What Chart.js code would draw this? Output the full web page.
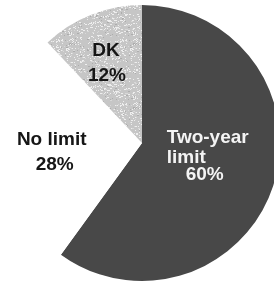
<!DOCTYPE html>
<html>
<head>
<meta charset="utf-8">
<script src="https://cdn.jsdelivr.net/npm/chart.js@4.4.1/dist/chart.umd.min.js"></script>
<style>
html,body{margin:0;padding:0;background:#fff;overflow:hidden;}
#wrap{position:absolute;left:0;top:0;width:284px;height:290px;}
</style>
</head>
<body>
<div id="wrap"><canvas id="chart" width="284" height="290"></canvas></div>
<script>
// slices, clockwise from 12 o'clock
const categories = ["Two-year limit", "No limit", "DK"];
const shares = [60, 28, 12];
const labelLines = [
    ["Two-year", "limit", "60%"],
    ["No limit", "28%"],
    ["DK", "12%"]
];

// label layout: distance from centre (fraction of radius) and line offsets
const labelRadius = [0.47, 0.67, 0.67];
const lineOffsets = [
    [[-37,-27,"left"], [-37,-7,"left"], [1,10,"center"]],
    [[2,-10,"center"], [5,15,"center"]],
    [[-2,-8,"center"], [-1,17,"center"]]
];
const textColors = ["#f4f4f4", "#161616", "#161616"];

// stippled grey for the DK slice
function stipple(){
    const c = document.createElement("canvas");
    c.width = 64; c.height = 64;
    const g = c.getContext("2d");
    g.fillStyle = "#c6c6c6";
    g.fillRect(0,0,64,64);
    let s = 12345;
    function next(){ s = (s*1103515245 + 12345) % 2147483648; return s/2147483648; }
    for(let i=0;i<700;i++){
        const x = Math.floor(next()*64), y = Math.floor(next()*64);
        const v = next();
        const w = next() < 0.3 ? 2 : 1;
        g.fillStyle = v < 0.65 ? "#eeeeee" : (v < 0.85 ? "#d8d8d8" : "#adadad");
        g.fillRect(x,y,w,1);
    }
    return g.createPattern(c,"repeat");
}

const sliceLabels = {
    id:"sliceLabels",
    afterDatasetsDraw(chart){
        const ctx = chart.ctx;
        const arcs = chart.getDatasetMeta(0).data;
        ctx.save();
        ctx.font = "bold 19px 'Liberation Sans', Arial, sans-serif";
        ctx.textBaseline = "alphabetic";
        arcs.forEach((arc,i)=>{
            const mid = (arc.startAngle + arc.endAngle)/2;
            const r = arc.outerRadius*labelRadius[i];
            const ax = arc.x + Math.cos(mid)*r;
            const ay = arc.y + Math.sin(mid)*r;
            ctx.fillStyle = textColors[i];
            labelLines[i].forEach((t,j)=>{
                const o = lineOffsets[i][j];
                ctx.textAlign = o[2];
                ctx.fillText(t, ax + o[0], ay + o[1] + 6.6);
            });
        });
        ctx.restore();
    }
};

new Chart(
    document.getElementById("chart"),
    {
        type:"pie",
        data:{
            labels:categories,
            datasets:[{
                data:shares,
                backgroundColor:["#484848", "#ffffff", stipple()],
                borderWidth:0
            }]
        },
        options:{
            responsive:false,
            animation:false,
            layout:{padding:{left:4, top:5, right:4, bottom:9}},
            plugins:{legend:{display:false}, tooltip:{enabled:false}}
        },
        plugins:[sliceLabels]
    }
);
</script>
</body>
</html>
